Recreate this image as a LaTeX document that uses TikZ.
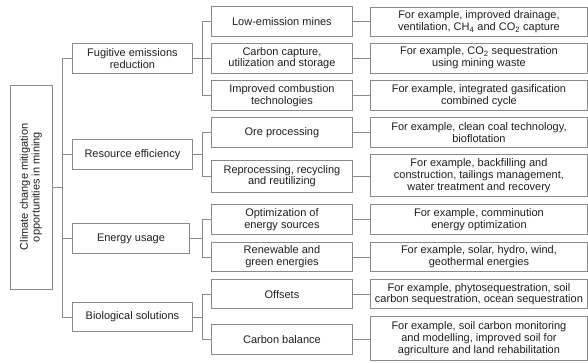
\documentclass[tikz,border=0pt]{standalone}
\usepackage{fontspec}
\setmainfont{Liberation Sans}
\definecolor{edge}{HTML}{8A8A8A}
\definecolor{ink}{HTML}{1E1E1E}
\begin{document}
\begin{tikzpicture}[x=1pt,y=-1pt,
  box/.style={draw=edge, line width=0.9pt, text=ink, align=center, inner sep=0pt,
    anchor=north west, font=\fontsize{11}{11.7}\selectfont},
  lvlone/.style={box, minimum width=120pt, minimum height=30pt},
  lvltwo/.style={box, minimum width=141pt, minimum height=30pt},
  lvlthree/.style={box, minimum width=217pt, minimum height=30pt},
  link/.style={draw=edge, line width=0.9pt}]
\useasboundingbox (0,0) rectangle (588,362);

% root (rotated: its south anchor faces right)
\node[box, anchor=center, rotate=90, minimum width=204pt, minimum height=42pt]
  (root) at (31,187) {Climate change mitigation\\opportunities in mining};

% first level
\node[lvlone] (fug) at (72,43) {Fugitive emissions\\reduction};
\node[lvlone] (res) at (72,139) {Resource efficiency};
\node[lvlone, minimum width=117pt] (ene) at (72,223) {Energy usage};
\node[lvlone, minimum height=29pt] (bio) at (72,302) {Biological solutions};

% second level
\node[lvltwo] (lem) at (211,6) {Low-emission mines};
\node[lvltwo] (ccs) at (211,42.7) {Carbon capture,\\utilization and storage};
\node[lvltwo] (ict) at (211,80) {Improved combustion\\technologies};
\node[lvltwo] (ore) at (211,117.3) {Ore processing};
\node[lvltwo, minimum height=31.5pt] (rep) at (211,160) {Reprocessing, recycling\\and reutilizing};
\node[lvltwo] (opt) at (211,204.3) {Optimization of\\energy sources};
\node[lvltwo, minimum height=29.6pt] (ren) at (211,241.7) {Renewable and\\green energies};
\node[lvltwo, minimum height=29.3pt] (off) at (211,279) {Offsets};
\node[lvltwo, minimum height=29.7pt] (cbl) at (211,324) {Carbon balance};

% examples
\node[lvlthree, minimum height=29.5pt] (ex1) at (370,6.5) {For example, improved drainage,\\ventilation, CH\textsubscript{4} and CO\textsubscript{2} capture};
\node[lvlthree] (ex2) at (370,42.5) {For example, CO\textsubscript{2} sequestration\\using mining waste};
\node[lvlthree] (ex3) at (370,80) {For example, integrated gasification\\combined cycle};
\node[lvlthree] (ex4) at (370,117.3) {For example, clean coal technology,\\bioflotation};
\node[lvlthree, minimum height=42pt] (ex5) at (370,154.3) {For example, backfilling and\\construction, tailings management,\\water treatment and recovery};
\node[lvlthree, minimum height=29.3pt] (ex6) at (370,204.3) {For example, comminution\\energy optimization};
\node[lvlthree, minimum height=29.3pt] (ex7) at (370,241.7) {For example, solar, hydro, wind,\\geothermal energies};
\node[lvlthree, minimum height=29.3pt] (ex8) at (370,279) {For example, phytosequestration, soil\\carbon sequestration, ocean sequestration};
\node[lvlthree, minimum height=44pt] (ex9) at (370,316) {For example, soil carbon monitoring\\and modelling, improved soil for\\agriculture and land rehabilitation};

% trunk lines
\coordinate (tk1) at (62,0);
\coordinate (tk2) at (202,0);

\draw[link] (root.south) -- (root.south -| tk1);
\draw[link] (fug.west -| tk1) -- (bio.west -| tk1);
\foreach \n in {fug,res,ene,bio}
  \draw[link] (\n.west) -- (\n.west -| tk1);

\foreach \p/\a/\b in {fug/lem/ict, res/ore/rep, ene/opt/ren, bio/off/cbl} {
  \draw[link] (\p.east) -- (\p.east -| tk2);
  \draw[link] (\a.west -| tk2) -- (\b.west -| tk2);
}
\foreach \n in {lem,ccs,ict,ore,rep,opt,ren,off,cbl}
  \draw[link] (\n.west) -- (\n.west -| tk2);

% second level to examples
\foreach \a/\b in {lem/ex1,ccs/ex2,ict/ex3,ore/ex4,rep/ex5,opt/ex6,ren/ex7,off/ex8,cbl/ex9}
  \draw[link] (\a.east) -- (\a.east -| \b.west);
\end{tikzpicture}
\end{document}
